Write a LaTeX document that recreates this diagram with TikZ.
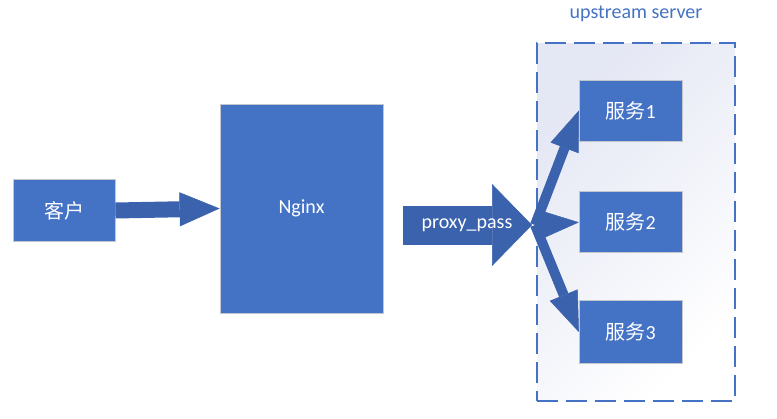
\documentclass[tikz,border=0pt]{standalone}
\usepackage{fontspec}
\setmainfont{Carlito}
\newfontfamily\cjk{Noto Sans CJK SC}
\usepackage{xcolor}
\usepackage{tikz}
\usetikzlibrary{positioning,arrows.meta}
\usetikzlibrary{calc}

\definecolor{officeblue}{RGB}{68,114,196}
\definecolor{arrowblue}{RGB}{59,98,172}
\definecolor{boxline}{RGB}{196,198,206}
\definecolor{frameshade}{RGB}{228,231,244}

\begin{document}
\begin{tikzpicture}[
  x=1pt, y=-1pt,
  font=\fontsize{20}{24}\selectfont,
  box/.style={draw=boxline, line width=0.8pt, fill=officeblue, text=white, inner sep=0pt, align=center},
  pool/.style={draw=officeblue, line width=2pt, dash pattern=on 21pt off 8pt, top color=frameshade, bottom color=white, shading angle=45, minimum width=198pt, minimum height=358pt},
  fat/.style={draw=arrowblue, line cap=butt}
]
\useasboundingbox (0,0) rectangle (777,418);

% Upstream group
\node[pool] (pool) at (636,222) {};
\node[text=officeblue, above=17pt of pool.north] (poollabel) {upstream server};

% Client and proxy
\node[box, minimum width=102pt, minimum height=62pt] (client) at (64,210.5) {{\cjk 客户}};
\node[box, minimum width=163pt, minimum height=209pt] (nginx) at (301.5,208.5) {Nginx};

% Servers
\node[box, minimum width=103pt, minimum height=61pt] (srv1) at (630.8,110.5) {{\cjk 服务}1};
\node[box, minimum width=103pt, minimum height=61pt, below=50pt of srv1] (srv2) {{\cjk 服务}2};
\node[box, minimum width=103pt, minimum height=63pt, below=47pt of srv2] (srv3) {{\cjk 服务}3};

% Arrows
\coordinate (passstart) at (403,225);
\coordinate (hub) at (532,225);
\coordinate (fork) at (535,225);

\draw[fat, line width=16pt, -{Triangle[length=40pt,width=34pt,line width=0.5pt]}] (client.east) -- (nginx.west);
\draw[fat, line width=39pt, -{Triangle[length=40pt,width=82pt,line width=0.5pt]}] (passstart) -- (hub);
\node[text=white] (passlabel) at (467,225) {proxy\_pass};

\foreach \s in {srv1,srv2,srv3}
  \draw[fat, line width=10pt, -{Triangle[length=40pt,width=30pt,line width=0.5pt]}] (fork) -- (\s.west);

\end{tikzpicture}
\end{document}
